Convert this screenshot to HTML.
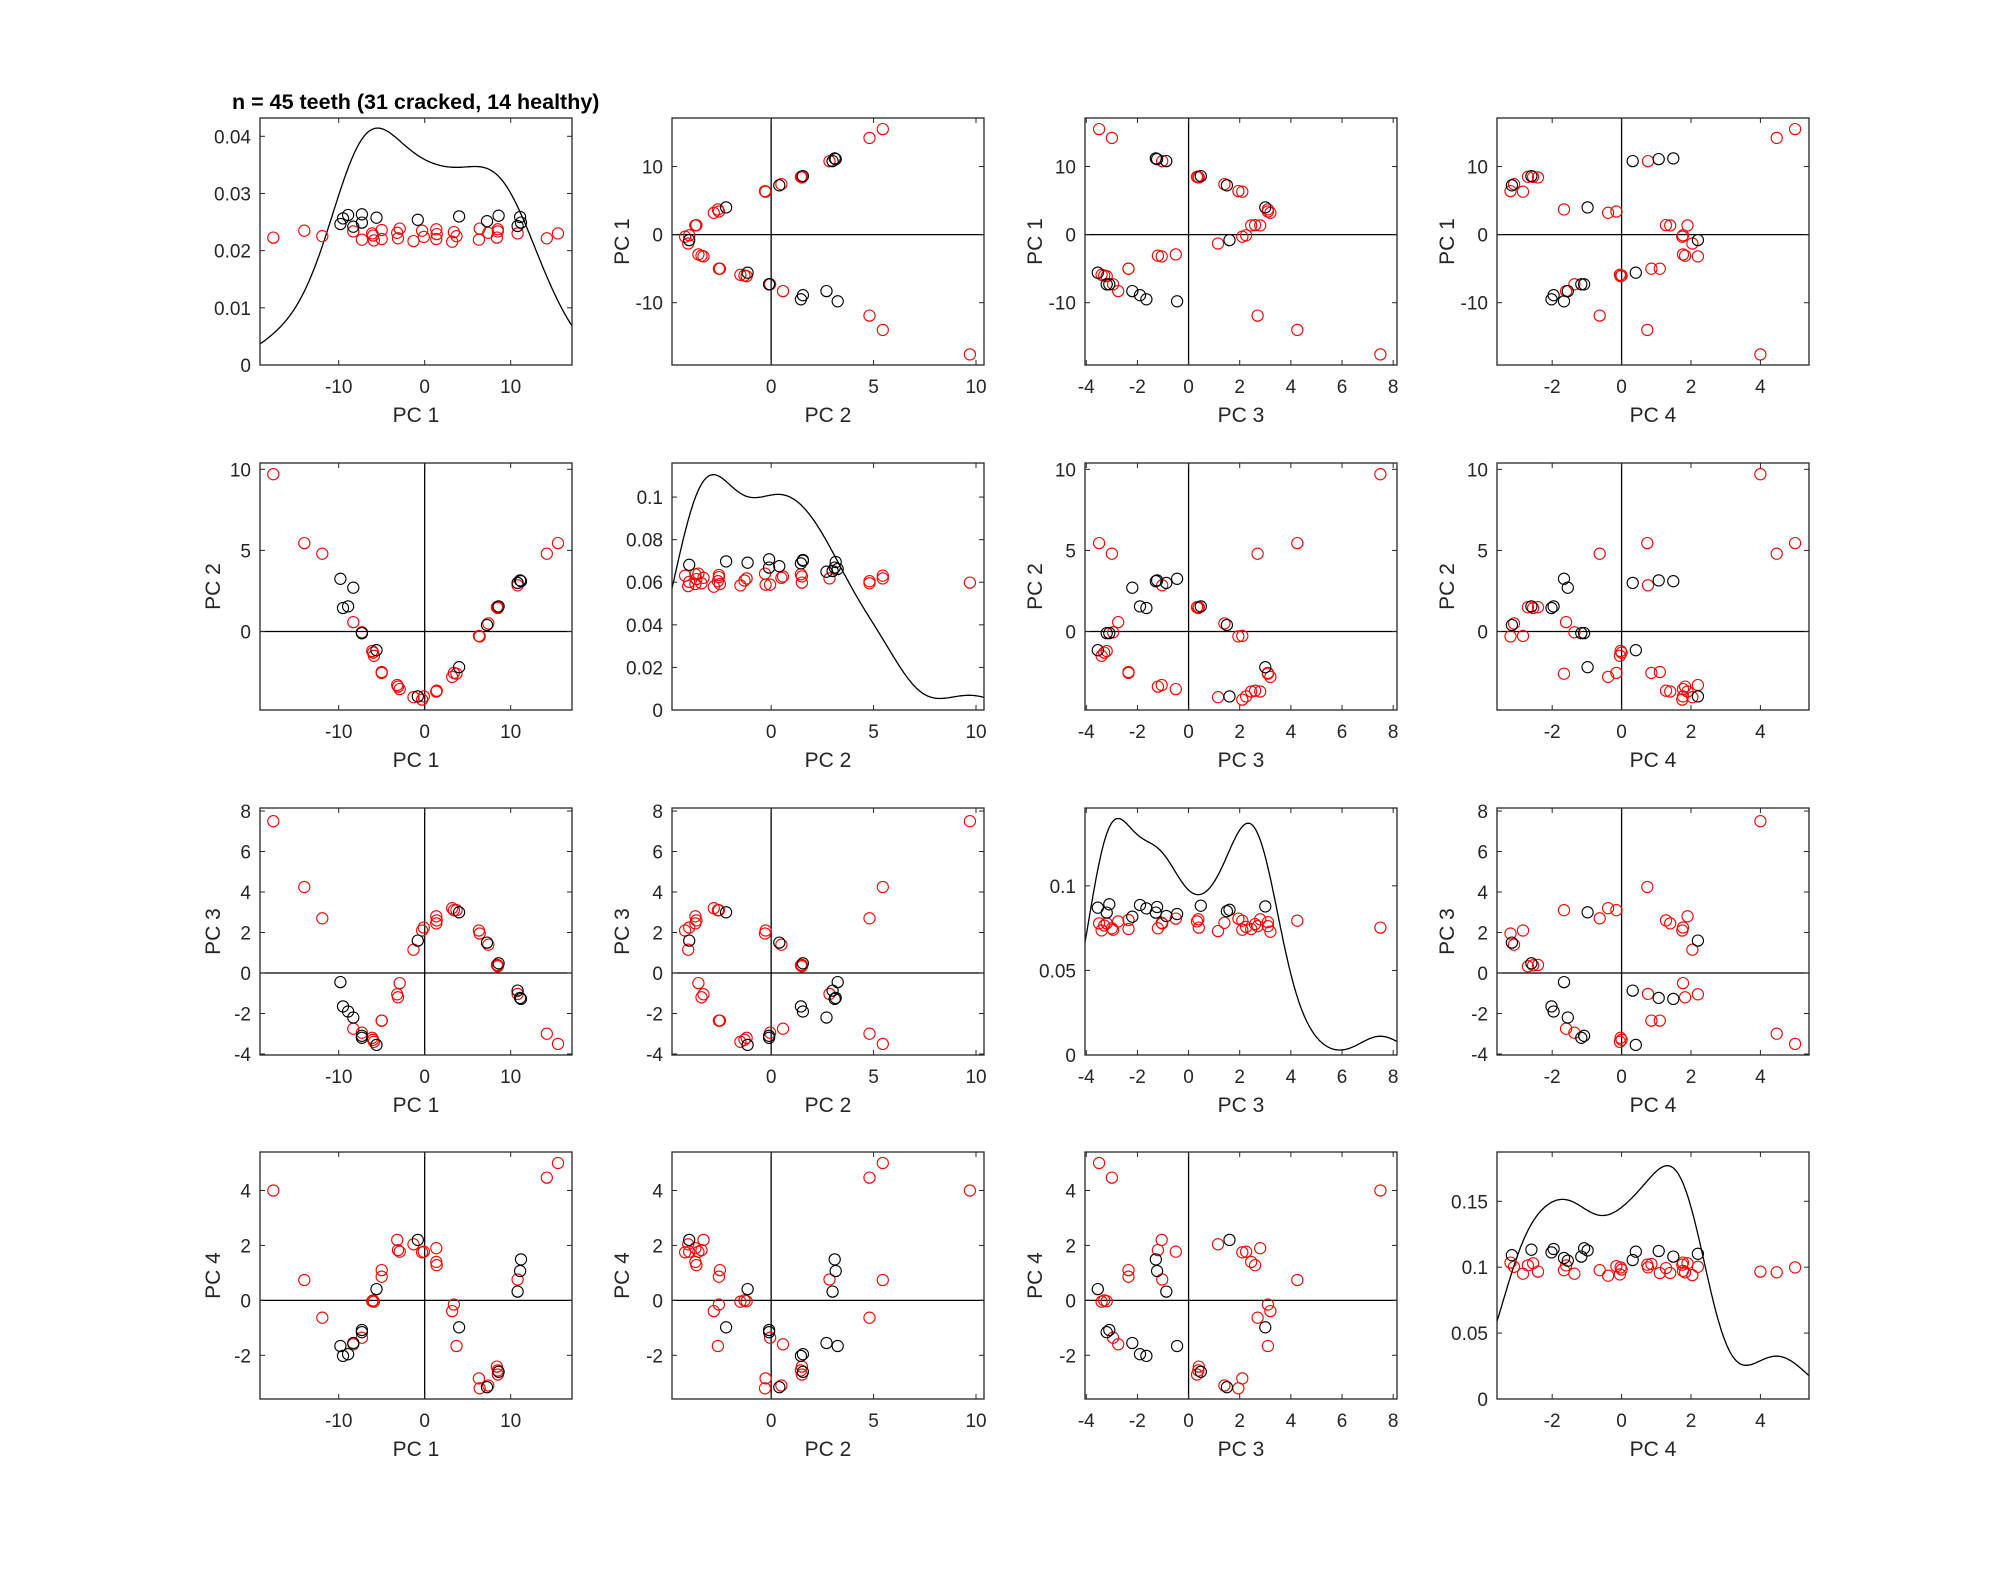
<!DOCTYPE html>
<html><head><meta charset="utf-8">
<style>
html,body{margin:0;padding:0;background:#fff;}
svg{display:block;font-family:"Liberation Sans",Arial,sans-serif;}
</style></head>
<body>
<svg id="chart" width="2000" height="1573" viewBox="0 0 2000 1573" xmlns="http://www.w3.org/2000/svg">
<rect x="0" y="0" width="2000" height="1573" fill="#fff"/>
<text x="232" y="109" font-size="21.5" font-weight="bold" fill="#000">n = 45 teeth (31 cracked, 14 healthy)</text>
</svg>
<script>
// ---- data ----
const group = ['R','R','R','B','B','B','B','R','B','B','R','R','R','B','R','R','R','R','R','R','B','R','R','R','R','R','R','R','R','B','R','R','B','R','R','B','R','B','R','B','B','R','R','R','R'];
const pc1 = [-17.6,-14.0,-11.9,-9.8,-9.5,-8.9,-8.3,-8.3,-7.3,-7.3,-7.3,-6.1,-5.9,-5.6,-5.0,-5.0,-3.2,-3.1,-2.9,-1.3,-0.8,-0.3,-0.1,1.35,1.35,1.4,3.2,3.4,3.7,4.0,6.3,6.4,7.25,7.4,8.4,8.6,8.5,10.8,10.8,11.1,11.2,14.2,15.5,-6.0,8.5];
const pc2 = [9.7,5.45,4.8,3.25,1.45,1.55,2.7,0.58,-0.1,-0.1,-0.05,-1.2,-1.5,-1.15,-2.5,-2.55,-3.3,-3.4,-3.55,-4.05,-4.0,-4.2,-4.0,-3.7,-3.7,-3.65,-2.8,-2.55,-2.6,-2.2,-0.27,-0.3,0.4,0.5,1.5,1.55,1.5,3.0,2.85,3.15,3.1,4.8,5.45,-1.3,1.45];
const pc3 = [7.5,4.25,2.7,-0.45,-1.65,-1.9,-2.2,-2.75,-3.1,-3.2,-2.95,-3.2,-3.4,-3.55,-2.35,-2.35,-1.05,-1.2,-0.5,1.15,1.6,2.1,2.25,2.8,2.45,2.6,3.2,3.1,3.1,3.0,2.1,1.95,1.5,1.4,0.4,0.48,0.33,-0.87,-1.03,-1.23,-1.28,-3.0,-3.5,-3.3,0.38];
const pc4 = [4.0,0.74,-0.63,-1.66,-2.02,-1.96,-1.55,-1.6,-1.08,-1.16,-1.36,-0.03,-0.05,0.41,1.1,0.86,2.2,1.83,1.77,2.04,2.2,1.75,1.77,1.9,1.4,1.28,-0.39,-0.15,-1.66,-0.98,-2.84,-3.2,-3.16,-3.1,-2.41,-2.6,-2.7,0.32,0.76,1.07,1.49,4.47,5.0,0.0,-2.55];
const jitter = [-0.4,0.6,-0.2,-0.5,0.3,0.8,-0.9,0.5,0.9,-0.3,-0.7,0.2,-0.8,0.4,-0.6,0.7,0.3,-0.5,0.9,-0.9,0.1,0.6,-0.3,0.8,-0.6,0.1,-1.0,0.4,-0.2,0.6,-0.7,0.9,-0.1,0.3,-0.4,0.7,0.5,-0.8,0.2,0.5,-0.3,-0.5,0.2,-0.1,0.8];
const bandwidths = [3.5,1.3,0.8,0.7];
const varNames = ['PC 1','PC 2','PC 3','PC 4'];
const varLims = [[-19.15,17.13],[-4.84,10.39],[-4.05,8.15],[-3.59,5.4]];
const varTicks = [[-10,0,10],[0,5,10],[-4,-2,0,2,4,6,8],[-2,0,2,4]];
const diagTop = [0.0432,0.116,0.146,0.1874];
const diagTicks1 = [0,0.01,0.02,0.03,0.04];
const diagTicks2 = [0,0.02,0.04,0.06,0.08,0.1];
const diagTicks3 = [0,0.05,0.1];
const diagTicks4 = [0,0.05,0.1,0.15];
const diagTicks = [diagTicks1,diagTicks2,diagTicks3,diagTicks4];

// ---- layout ----
const NS='http://www.w3.org/2000/svg';
const svg=document.getElementById('chart');
const colLeft=[260,672,1085,1497], rowTop=[118,463,808,1152], W=312, H=247;
const vars=[pc1,pc2,pc3,pc4];
const AX='#262626';
function mk(tag,attrs,parent){const e=document.createElementNS(NS,tag);for(const k in attrs)e.setAttribute(k,attrs[k]);(parent||svg).appendChild(e);return e;}
function fmt(v){return String(Math.round(v*1000)/1000);}

function kde(data,xs,h){
  const n=data.length;
  return xs.map(x=>{let t=0;for(const d of data){const u=(x-d)/h;t+=Math.exp(-0.5*u*u);}return t/(n*h*Math.sqrt(2*Math.PI));});
}

for(let r=0;r<4;r++){
  for(let c=0;c<4;c++){
    const L=colLeft[c],T=rowTop[r];
    const g=mk('g',{});
    
    
    const xl=varLims[c];
    const sx=v=>L+(v-xl[0])/(xl[1]-xl[0])*W;
    let sy, yTicks;
    const diag=(r===c);
    if(diag){const top=diagTop[r];sy=v=>T+H-v/top*H;yTicks=diagTicks[r];}
    else{const yl=varLims[r];sy=v=>T+H-(v-yl[0])/(yl[1]-yl[0])*H;yTicks=varTicks[r];}
    const clipId='clip'+r+c;
    const cp=mk('clipPath',{id:clipId},g);mk('rect',{x:L,y:T,width:W,height:H},cp);
    const plot=mk('g',{'clip-path':'url(#'+clipId+')'},g);
    if(!diag){
      const zx=mk('line',{x1:sx(0),x2:sx(0),y1:T,y2:T+H,stroke:'#000','stroke-width':1.3},plot);
      
      
      const zy=mk('line',{x1:L,x2:L+W,y1:sy(0),y2:sy(0),stroke:'#000','stroke-width':1.3},plot);
      
      
    }else{
      const xs=[];for(let i=0;i<=300;i++)xs.push(xl[0]+(xl[1]-xl[0])*i/300);
      const ys=kde(vars[c],xs,bandwidths[c]);
      const d=xs.map((x,i)=>(i?'L':'M')+sx(x).toFixed(1)+' '+sy(ys[i]).toFixed(1)).join(' ');
      const p=mk('path',{d:d,fill:'none',stroke:'#000','stroke-width':1.3},plot);
      
      
    }
    const order=['R','B'];
    for(const grp of order){
      for(let i=0;i<pc1.length;i++){
        if(group[i]!==grp)continue;
        const x=sx(vars[c][i]);
        let y;
        if(diag){const top=diagTop[r];const frac=(grp==='B'?0.585:0.527)+jitter[i]*0.028;y=sy(frac*top);}
        else y=sy(vars[r][i]);
        const m=mk('circle',{cx:x.toFixed(1),cy:y.toFixed(1),r:5.6,fill:'none',stroke:grp==='B'?'#000':'#ff0000','stroke-width':1.1},plot);
        
        
      }
    }
    const box=mk('rect',{x:L,y:T,width:W,height:H,fill:'none',stroke:AX,'stroke-width':1.3},g);
    
    
    for(const t of varTicks[c]){
      const x=sx(t);if(x<L-1||x>L+W+1)continue;
      mk('line',{x1:x,x2:x,y1:T+H,y2:T+H-5,stroke:AX,'stroke-width':1},g);
      mk('line',{x1:x,x2:x,y1:T,y2:T+5,stroke:AX,'stroke-width':1},g);
      const tl=mk('text',{x:x,y:T+H+28,'font-size':19,'text-anchor':'middle',fill:AX},g);
      tl.textContent=fmt(t);
      
      
    }
    for(const t of yTicks){
      const y=sy(t);if(y<T-1||y>T+H+1)continue;
      mk('line',{x1:L,x2:L+5,y1:y,y2:y,stroke:AX,'stroke-width':1},g);
      mk('line',{x1:L+W,x2:L+W-5,y1:y,y2:y,stroke:AX,'stroke-width':1},g);
      const tl=mk('text',{x:L-9,y:y+7,'font-size':19,'text-anchor':'end',fill:AX},g);
      tl.textContent=fmt(t);
      
      
    }
    const xlab=mk('text',{x:L+W/2,y:T+H+57,'font-size':21,'text-anchor':'middle',fill:AX},g);
    xlab.textContent=varNames[c];
    
    
    if(!diag){
      const bx=(c===0)?L-40:L-43;
      const ylab=mk('text',{x:bx,y:T+H/2,'font-size':21,'text-anchor':'middle',fill:AX,transform:'rotate(-90 '+bx+' '+(T+H/2)+')'},g);
      ylab.textContent=varNames[r];
      
      
    }
  }
}
</script>
</body></html>
